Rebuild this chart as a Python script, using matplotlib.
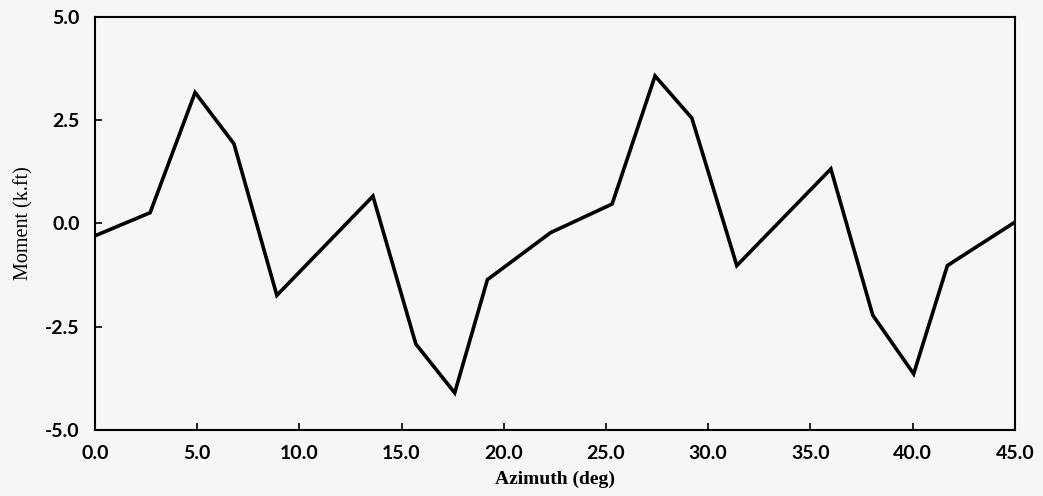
import matplotlib
matplotlib.use("Agg")
import matplotlib.pyplot as plt

# Bending moment vs rotor azimuth
azimuth_deg = [0.0, 2.7, 4.9, 6.8, 8.9, 13.6, 15.7, 17.6, 19.2, 22.3, 25.3,
               27.4, 29.2, 31.4, 36.0, 38.05, 40.05, 41.7, 45.0]
moment_kft = [-0.30, 0.26, 3.17, 1.93, -1.74, 0.66, -2.92, -4.10, -1.36, -0.22, 0.47,
              3.57, 2.55, -1.02, 1.32, -2.22, -3.64, -1.02, 0.03]

x_ticks = [0, 5, 10, 15, 20, 25, 30, 35, 40, 45]
y_ticks = [-5.0, -2.5, 0.0, 2.5, 5.0]

bg = "#f6f6f6"
fig = plt.figure(figsize=(10.43, 4.96), dpi=100, facecolor=bg)
ax = fig.add_axes([0.091, 0.133, 0.882, 0.833], facecolor=bg)

ax.plot(azimuth_deg, moment_kft, color="black", lw=2.6, solid_joinstyle="miter")

ax.set_xlim(0, 45)
ax.set_ylim(-5, 5)
ax.set_xticks(x_ticks)
ax.set_xticklabels([f"{v:.1f}" for v in x_ticks])
ax.set_yticks(y_ticks)
ax.set_yticklabels([f"{v:.1f}" for v in y_ticks])

for s in ax.spines.values():
    s.set_linewidth(1.5)
    s.set_color("black")

ax.tick_params(direction="in", length=5, width=1.2, colors="black")
ax.tick_params(axis="x", pad=11)
ax.tick_params(axis="y", pad=11)
for lab in ax.get_xticklabels() + ax.get_yticklabels():
    lab.set_fontfamily("Lato")
    lab.set_fontweight("bold")
    lab.set_fontsize(14)

ax.set_xlabel("Azimuth (deg)", fontfamily="Liberation Serif", fontsize=14,
              fontweight="bold", labelpad=6)
ax.set_ylabel("Moment (k.ft)", fontfamily="Liberation Serif", fontsize=14.5,
              labelpad=8)

fig.savefig("out.png", dpi=100, facecolor=bg)
